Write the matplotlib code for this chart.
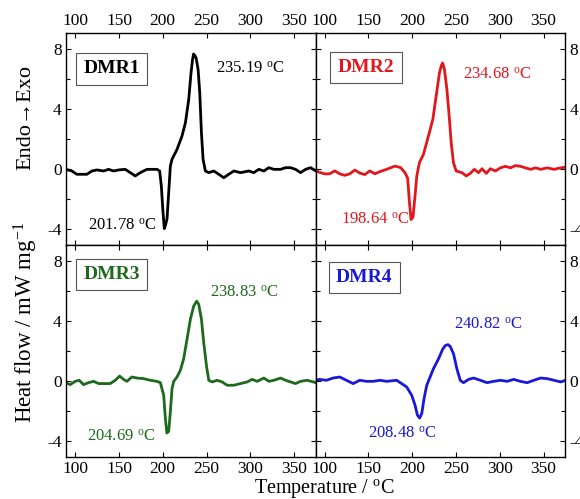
import matplotlib
matplotlib.use("Agg")
import matplotlib.pyplot as plt
from matplotlib.ticker import MultipleLocator

plt.rcParams["font.family"] = ["Liberation Serif", "DejaVu Serif"]
plt.rcParams["mathtext.fontset"] = "custom"
plt.rcParams["mathtext.rm"] = "Liberation Serif"
plt.rcParams["mathtext.it"] = "Liberation Serif:italic"
plt.rcParams["axes.unicode_minus"] = False

# DSC traces, temperature (deg C) vs heat flow (mW/mg)
t1 = [89.3, 96.2, 101.9, 113.3, 119.1, 124.8, 132.4, 138.1, 143.9, 149.6, 157.2, 162.9,
      168.6, 174.4, 182.0, 193.4, 196.5, 198.4, 200.0, 201.78, 203.2, 204.9, 206.8, 208.7,
      210.6, 216.3, 222.0, 225.9, 229.7, 232.3, 234.0, 235.19, 236.6, 238.1, 240.4, 242.3,
      244.2, 246.1, 248.7, 252.6, 258.3, 264.0, 269.7, 275.4, 281.2, 288.8, 298.3, 304.0,
      309.8, 315.5, 321.2, 326.9, 334.6, 340.3, 346.0, 351.7, 357.4, 363.2, 368.9, 375.0]
hf1 = [0.0, -0.11, -0.33, -0.33, -0.11, -0.04, -0.11, 0.0, -0.11, -0.04, 0.0, -0.22,
       -0.44, -0.22, 0.0, 0.0, -0.11, -1.11, -2.6, -3.95, -3.7, -3.3, -1.56, 0.22,
       0.67, 1.33, 2.22, 3.11, 4.67, 6.44, 7.3, 7.7, 7.6, 7.44, 6.67, 5.11,
       2.44, 0.67, -0.11, -0.22, -0.11, -0.33, -0.56, -0.33, -0.11, -0.22, -0.11, -0.22,
       0.0, -0.11, 0.11, 0.0, 0.0, 0.11, 0.11, 0.0, -0.22, 0.0, 0.11, -0.11]

t2 = [89.3, 94.3, 100.0, 105.7, 111.5, 117.2, 122.9, 128.7, 134.4, 140.1, 145.9, 151.6,
      157.3, 163.1, 170.7, 180.3, 186.8, 191.7, 194.8, 196.8, 198.64, 200.8, 203.2, 205.2,
      208.2, 212.8, 218.5, 223.5, 227.3, 231.1, 233.4, 234.68, 236.8, 239.6, 242.2, 244.5,
      247.1, 250.2, 256.7, 261.7, 266.3, 270.9, 275.8, 279.7, 284.6, 289.2, 295.0, 300.7,
      306.4, 312.2, 317.9, 323.6, 329.4, 335.1, 340.8, 346.6, 354.2, 361.9, 369.5, 375.2]
hf2 = [-0.1, -0.2, -0.3, -0.3, -0.1, -0.3, -0.4, -0.3, -0.05, -0.25, -0.35, -0.1,
       -0.3, -0.15, 0.0, 0.22, 0.11, -0.22, -0.6, -2.2, -3.35, -3.2, -1.78, -0.44,
       0.44, 1.0, 2.22, 3.33, 4.89, 6.44, 6.95, 7.1, 6.67, 5.33, 3.56, 1.78,
       0.44, -0.11, -0.22, -0.44, -0.27, 0.0, -0.22, 0.04, -0.27, 0.04, -0.11, 0.1,
       0.2, 0.1, 0.25, 0.2, 0.1, 0.0, 0.1, 0.0, 0.1, 0.0, 0.1, 0.15]

t3 = [89.3, 94.3, 100.0, 104.6, 109.5, 115.3, 121.0, 126.7, 132.4, 140.0, 145.8, 150.7,
      155.3, 159.1, 164.8, 170.6, 178.2, 185.8, 193.4, 197.3, 201.1, 203.0, 204.69, 206.8,
      208.7, 210.6, 212.5, 216.3, 220.1, 223.9, 227.8, 231.6, 235.4, 238.83, 241.1, 244.2,
      246.8, 249.9, 252.6, 256.4, 262.1, 267.8, 273.6, 281.2, 288.8, 296.4, 302.1, 307.9,
      315.5, 321.2, 326.9, 334.6, 340.3, 346.0, 351.7, 357.4, 365.1, 375.0]
hf3 = [-0.09, -0.22, 0.0, 0.07, -0.22, -0.09, 0.0, -0.15, -0.15, -0.15, 0.07, 0.35,
       0.13, 0.0, 0.29, 0.22, 0.18, 0.07, 0.0, -0.09, -0.93, -2.47, -3.45, -3.35,
       -2.03, -0.49, 0.0, 0.29, 0.73, 1.5, 2.83, 4.15, 5.03, 5.35, 5.14, 4.15,
       2.6, 1.06, 0.07, -0.04, 0.07, -0.04, -0.26, -0.26, -0.15, -0.04, 0.13, 0.0,
       0.22, 0.0, 0.07, 0.22, 0.07, -0.04, -0.15, 0.0, 0.07, -0.09]

t4 = [89.3, 94.3, 101.9, 109.6, 117.2, 124.8, 132.5, 140.1, 147.8, 155.4, 163.1, 170.7,
      182.2, 187.9, 193.7, 199.4, 203.2, 205.9, 208.48, 210.9, 213.5, 216.6, 220.4, 224.2,
      230.0, 234.9, 238.0, 240.82, 243.3, 247.2, 251.0, 254.8, 258.6, 264.4, 270.1, 277.8,
      285.4, 293.1, 300.7, 308.3, 316.0, 323.6, 331.3, 338.9, 346.6, 354.2, 361.9, 369.5, 375.2]
hf4 = [0.07, 0.13, 0.07, 0.22, 0.29, 0.07, -0.15, 0.07, 0.0, 0.0, 0.07, 0.0,
       0.07, -0.15, -0.38, -0.93, -1.59, -2.25, -2.45, -2.14, -1.15, -0.26, 0.29, 0.84,
       1.5, 2.16, 2.4, 2.45, 2.34, 1.83, 0.84, 0.07, -0.09, 0.13, 0.22, 0.07,
       -0.09, 0.0, 0.07, 0.0, 0.13, 0.0, -0.09, 0.07, 0.22, 0.18, 0.07, -0.04, 0.07]

names = ["DMR1", "DMR2", "DMR3", "DMR4"]
colors = ["black", "#e3161c", "#1d6a1d", "#1818d8"]
temps = [t1, t2, t3, t4]
flows = [hf1, hf2, hf3, hf4]
# (exo peak, endo peak) temperatures written on each panel
peak_labels = [("235.19", "201.78"), ("234.68", "198.64"),
               ("238.83", "204.69"), ("240.82", "208.48")]

# where the texts sit in each panel (data coords): name box, exo label, endo label
text_pos = [((141.8, 6.7), (299.7, 6.73), (153.8, -3.73)),
            ((147.0, 6.8), (296.7, 6.33), (157.3, -3.33)),
            ((141.8, 7.13), (292.8, 5.94), (152.0, -3.66)),
            ((145.3, 6.93), (286.4, 3.82), (188.3, -3.46))]

fig = plt.figure(figsize=(5.8, 4.99), dpi=100)
left, bottom = 66 / 580, 1 - 457 / 499
w, h = (565 - 66) / 2 / 580, (457 - 33) / 2 / 499
boxes = [(left, bottom + h), (left + w, bottom + h), (left, bottom), (left + w, bottom)]

deg = r"$^{\mathrm{o}}$C"
for i, (x0, y0) in enumerate(boxes):
    ax = fig.add_axes([x0, y0, w, h])
    ax.plot(temps[i], flows[i], color=colors[i], lw=2.0, solid_joinstyle="round")
    ax.set_xlim(89.5, 374.5)
    ax.set_ylim(-5.05, 9.1)
    ax.xaxis.set_major_locator(MultipleLocator(50))
    ax.yaxis.set_major_locator(MultipleLocator(4))
    ax.yaxis.set_minor_locator(MultipleLocator(2))
    ax.tick_params(which="both", direction="in", top=True, bottom=True, left=True, right=True,
                   labelsize=12.5, width=0.8, pad=3)
    ax.tick_params(which="major", length=3.5)
    ax.tick_params(which="minor", length=3)
    top_row = i < 2
    right_col = i % 2 == 1
    ax.tick_params(labeltop=top_row, labelbottom=not top_row,
                   labelleft=not right_col, labelright=right_col)
    for s in ax.spines.values():
        s.set_linewidth(1.0)

    (bx, by), (ex, ey), (nx, ny) = text_pos[i]
    ax.text(bx, by, names[i], color=colors[i], fontsize=14, fontweight="bold",
            ha="center", va="center",
            bbox=dict(boxstyle="square,pad=0.38", fc="white", ec="#555555", lw=0.8))
    exo, endo = peak_labels[i]
    ax.text(ex, ey, f"{exo} {deg}", color=colors[i], fontsize=12, ha="center", va="center")
    ax.text(nx, ny, f"{endo} {deg}", color=colors[i], fontsize=12, ha="center", va="center")

fig.text(324 / 580, 1 - 489 / 499, f"Temperature / {deg}", fontsize=14.5,
         ha="center", va="center")
fig.text(26 / 580, 1 - 322 / 499, r"Heat flow / mW mg$^{-1}$", fontsize=16.5,
         rotation=90, ha="center", va="center")
fig.text(26 / 580, 1 - 118 / 499, "Endo\u2192Exo", fontsize=16,
         rotation=90, ha="center", va="center")

fig.savefig("out.png", dpi=100)
